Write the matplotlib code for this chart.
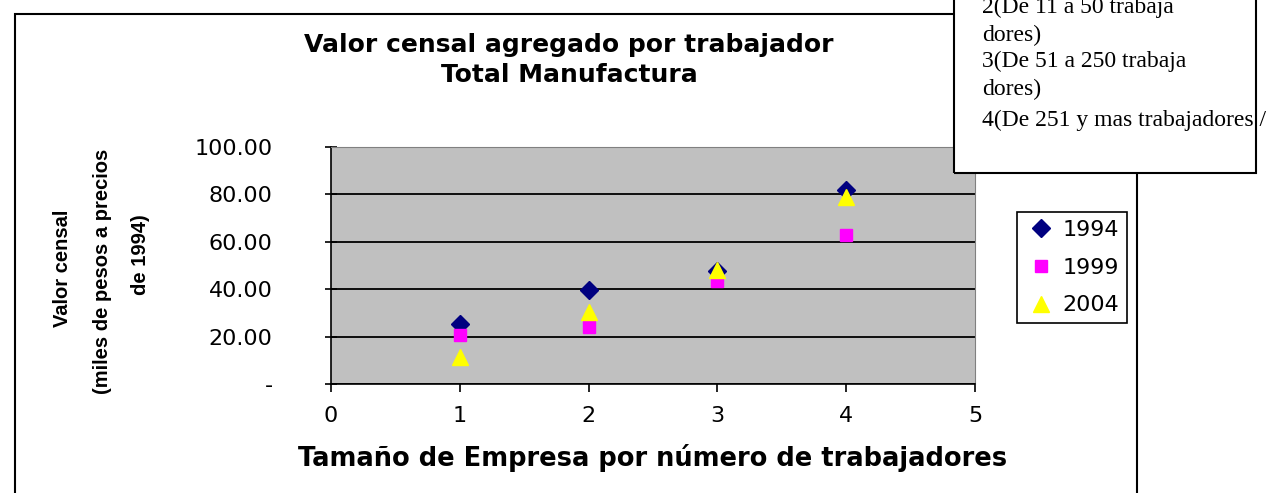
import numpy as np
import matplotlib
matplotlib.use("Agg")
import matplotlib.pyplot as plt
from matplotlib.patches import Rectangle
from matplotlib.ticker import FuncFormatter

# data
sizes = [1, 2, 3, 4]
v1994 = [25.3, 39.7, 47.8, 81.9]
v1999 = [20.7, 24.0, 43.5, 62.7]
v2004 = [11.4, 30.4, 48.0, 79.0]

title = "Valor censal agregado por trabajador\nTotal Manufactura"
xlabel = "Tamaño de Empresa por número de trabajadores"
ylabel_lines = ["Valor censal", "(miles de pesos a precios", "de 1994)"]
note_lines = ["2(De 11 a 50 trabaja", "dores)", "3(De 51 a 250 trabaja",
              "dores)", "4(De 251 y mas trabajadores /"]

W, H = 1271, 493
fig = plt.figure(figsize=(W / 100, H / 100), dpi=100)


def fx(px):
    return px / W


def fy(py):
    return 1 - py / H


# outer chart border
fig.patches.append(Rectangle((fx(15), -0.05), fx(1137) - fx(15), fy(14) + 0.05,
                             transform=fig.transFigure, fill=False,
                             edgecolor="black", lw=1.5, zorder=0))

ax = fig.add_axes([fx(331), fy(384), fx(975) - fx(331), fy(147) - fy(384)])
ax.set_facecolor("#C0C0C0")
ax.set_xlim(0, 5)
ax.set_ylim(0, 100)
ax.set_xticks(range(6))
ax.set_yticks(range(0, 101, 20))
ax.yaxis.set_major_formatter(FuncFormatter(lambda v, p: "-" if v == 0 else f"{v:.2f}"))
ax.grid(axis="y", color="black", lw=1.3)
ax.set_axisbelow(True)
for s in ["top", "right"]:
    ax.spines[s].set_color("#808080")
ax.spines["left"].set_linewidth(1.2)
ax.spines["bottom"].set_linewidth(1.2)
ax.tick_params(axis="y", direction="inout", length=8, width=1.2, pad=38,
               labelsize=16)
ax.tick_params(axis="x", direction="out", length=6, width=1.2, pad=10,
               labelsize=16)

ax.plot(sizes, v1994, ls="none", marker="D", ms=9, color="#000080", label="1994", clip_on=False)
ax.plot(sizes, v1999, ls="none", marker="s", ms=9, color="#FF00FF", label="1999", clip_on=False)
ax.plot(sizes, v2004, ls="none", marker="^", ms=11, color="#FFFF00", label="2004", clip_on=False)

ax.set_xlabel(xlabel, fontsize=18.5, fontweight="bold", labelpad=13)

fig.text(fx(569), fy(60), title, ha="center", va="center", fontsize=18,
         fontweight="bold", linespacing=1.3)

# y label, three rotated lines
for x_px, y_px, line in zip([63, 102, 140], [268, 271, 255], ylabel_lines):
    fig.text(fx(x_px), fy(y_px), line, rotation=90, ha="center", va="center",
             fontsize=14.5, fontweight="bold",
             family=["Liberation Sans Narrow", "Liberation Sans"])

leg = fig.legend(loc="upper left", bbox_to_anchor=(fx(1017), fy(212)),
                 fontsize=16, frameon=True, fancybox=False, framealpha=1,
                 edgecolor="black", borderpad=0.35, labelspacing=0.8,
                 handletextpad=0.2, handlelength=1.5, borderaxespad=0)
leg.get_frame().set_linewidth(1.2)

# note box at top right
box = dict(transform=fig.transFigure)
fig.patches.append(Rectangle((fx(954), fy(173)), fx(1256) - fx(954), 0.5,
                             facecolor="white", edgecolor="none", zorder=2, **box))
for y_px, line in zip([7, 35, 61, 89, 120], note_lines):
    fig.text(fx(982), fy(y_px), line, ha="left", va="center", fontsize=17,
             family="Liberation Serif", zorder=3)
fig.patches.append(Rectangle((fx(954), fy(173)), fx(1256) - fx(954), 0.5,
                             fill=False, edgecolor="black", lw=1.5, zorder=4, **box))

fig.savefig("out.png", dpi=100)
